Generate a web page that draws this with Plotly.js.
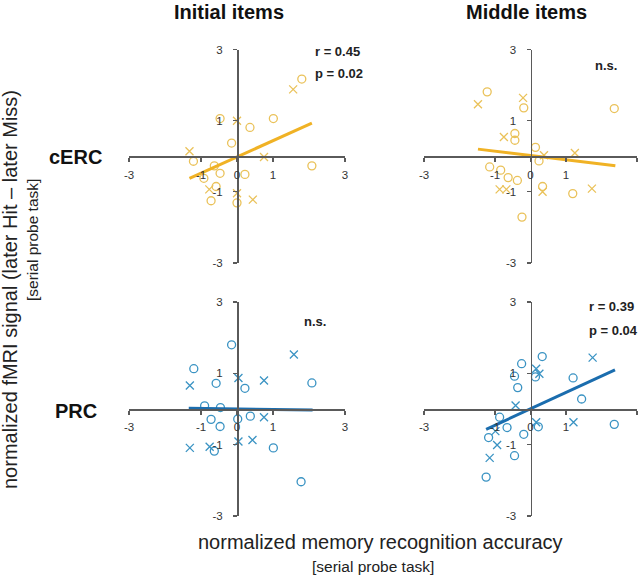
<!DOCTYPE html>
<html>
<head>
<meta charset="utf-8">
<script src="https://cdn.plot.ly/plotly-3.0.1.min.js"></script>
<style>html,body{margin:0;padding:0;background:#fff;}#chart{width:640px;height:575px;}</style>
</head>
<body>
<div id="chart"></div>
<script>
// ---- data ----
const colTitles = ["Initial items", "Middle items"];
const rowTitles = ["cERC", "PRC"];
const xTickVals = [-3, -1, 0, 1, 3];
const xTickText = ["-3", "-1", "0", "1", "3"];
const yTickVals = [-3, -1, 1, 3];
const yTickText = ["-3", "-1", "1", "3"];

// cERC, Initial items
const p1CircX = [1.80, -0.47, 0.36, 1.01, -0.15, -1.21, 2.08, -0.63, -0.47, -0.92, 0.22, -0.58, -0.72, 0.00];
const p1CircY = [2.17, 1.06, 0.81, 1.06, 0.37, -0.14, -0.27, -0.27, -0.48, -0.62, -0.51, -0.85, -1.25, -1.31];
const p1CrossX = [1.56, 0.00, -1.32, 0.75, -0.77, 0.00, 0.44];
const p1CrossY = [1.88, 1.00, 0.14, -0.02, -0.93, -1.04, -1.22];
const p1FitX = [-1.32, 2.08];
const p1FitY = [-0.62, 0.93];
const p1Stats = ["r = 0.45", "p = 0.02"];

// cERC, Middle items
const p2CircX = [-1.22, -0.19, 2.36, -0.44, -0.44, 0.14, 0.24, -1.15, -0.84, -0.63, -0.37, 0.34, 1.19, -0.24];
const p2CircY = [1.81, 1.36, 1.34, 0.64, 0.45, 0.25, -0.13, -0.30, -0.39, -0.60, -0.68, -0.85, -1.05, -1.71];
const p2CrossX = [-1.48, -0.21, -0.75, 0.38, 1.25, -0.87, -0.68, 0.34, 1.73];
const p2CrossY = [1.46, 1.64, 0.54, 0.03, 0.09, -0.93, -0.93, -1.00, -0.91];
const p2FitX = [-1.48, 2.39];
const p2FitY = [0.20, -0.27];
const p2Stats = ["n.s."];

// PRC, Initial items
const p3CircX = [-0.15, -1.20, -0.58, 0.22, 2.08, -0.90, -0.46, -0.72, 0.02, 0.37, -0.47, -0.63, 1.01, 1.78];
const p3CircY = [1.80, 1.13, 0.72, 0.58, 0.73, 0.09, 0.04, -0.29, -0.28, -0.20, -0.49, -1.18, -1.09, -2.04];
const p3CrossX = [1.58, -1.31, 0.04, 0.75, 0.75, -1.31, -0.76, 0.04, 0.43];
const p3CrossY = [1.53, 0.66, 0.87, 0.80, -0.23, -1.09, -1.06, -0.91, -0.87];
const p3FitX = [-1.34, 2.10];
const p3FitY = [0.02, -0.03];
const p3Stats = ["n.s."];

// PRC, Middle items
const p4CircX = [0.33, -0.25, -0.45, 0.14, 1.20, -0.36, 1.44, -0.87, 0.22, 2.36, -0.66, -0.19, -1.18, -0.45, -1.25];
const p4CircY = [1.47, 1.27, 0.92, 0.90, 0.87, 0.60, 0.28, -0.23, -0.50, -0.43, -0.52, -0.71, -0.80, -1.31, -1.91];
const p4CrossX = [1.75, 0.16, 0.25, -0.42, 0.16, 1.21, -0.99, -0.94, -1.15];
const p4CrossY = [1.44, 1.13, 0.99, 0.10, -0.37, -0.37, -0.62, -1.01, -1.37];
const p4FitX = [-1.25, 2.38];
const p4FitY = [-0.57, 1.10];
const p4Stats = ["r = 0.39", "p = 0.04"];

const xTitle = "normalized memory recognition accuracy";
const yTitle = "normalized fMRI signal (later Hit \u2013 later Miss)";
const subTitle = "[serial probe task]";

// ---- styling ----
const FONT = "Liberation Sans, Arial, Helvetica, sans-serif";
const yellowMarker = "#EAC25A";
const yellowLine = "#F0B225";
const blueMarker = "#3A93C3";
const blueLine = "#1B6DAE";

const panels = [
  {cx: p1CircX, cy: p1CircY, kx: p1CrossX, ky: p1CrossY, fx: p1FitX, fy: p1FitY, mc: yellowMarker, lc: yellowLine, ax: "", stats: p1Stats, sx: 2.11, sy: [2.94, 2.33], anchor: "left"},
  {cx: p2CircX, cy: p2CircY, kx: p2CrossX, ky: p2CrossY, fx: p2FitX, fy: p2FitY, mc: yellowMarker, lc: yellowLine, ax: "2", stats: p2Stats, sx: 2.13, sy: [2.56], anchor: "center"},
  {cx: p3CircX, cy: p3CircY, kx: p3CrossX, ky: p3CrossY, fx: p3FitX, fy: p3FitY, mc: blueMarker, lc: blueLine, ax: "3", stats: p3Stats, sx: 2.16, sy: [2.46], anchor: "center"},
  {cx: p4CircX, cy: p4CircY, kx: p4CrossX, ky: p4CrossY, fx: p4FitX, fy: p4FitY, mc: blueMarker, lc: blueLine, ax: "4", stats: p4Stats, sx: 1.59, sy: [2.88, 2.19], anchor: "left"}
];

const traces = [];
const annotations = [];
panels.forEach(p => {
  const xa = "x" + p.ax, ya = "y" + p.ax;
  traces.push({x: p.cx, y: p.cy, xaxis: xa, yaxis: ya, type: "scatter", mode: "markers",
    marker: {symbol: "circle-open", size: 8, color: p.mc, line: {width: 1.3, color: p.mc}}, hoverinfo: "skip"});
  traces.push({x: p.kx, y: p.ky, xaxis: xa, yaxis: ya, type: "scatter", mode: "markers",
    marker: {symbol: "x-thin-open", size: 8, color: p.mc, line: {width: 1.3, color: p.mc}}, hoverinfo: "skip"});
  traces.push({x: p.fx, y: p.fy, xaxis: xa, yaxis: ya, type: "scatter", mode: "lines",
    line: {color: p.lc, width: 3}, hoverinfo: "skip"});
  p.stats.forEach((t, i) => {
    annotations.push({xref: xa, yref: ya, x: p.sx, y: p.sy[i], text: "<b>" + t + "</b>", showarrow: false,
      xanchor: p.anchor, yanchor: "middle", font: {family: FONT, size: 13, color: "#222"}});
  });
});

// domains (paper fractions)
const xdomL = [129/640, 345/640], xdomR = [424/640, 637/640];
const ydomT = [1 - 263/575, 1 - 49.5/575], ydomB = [1 - 516/575, 1 - 302/575];
const mid = d => (d[0] + d[1]) / 2;

function xAxis(dom, ydom) {
  return {domain: dom, range: [-3, 3], anchor: "free", position: mid(ydom),
    showline: true, linecolor: "#5a5a5a", linewidth: 1.5, showgrid: false, zeroline: false,
    ticks: "outside", ticklen: 4, tickwidth: 1.2, tickcolor: "#5a5a5a", ticklabelstandoff: 3,
    tickmode: "array", tickvals: xTickVals, ticktext: xTickText,
    tickfont: {family: FONT, size: 11.5, color: "#333"}, fixedrange: true};
}
function yAxis(dom, xdom) {
  return {domain: dom, range: [-3, 3], anchor: "free", position: mid(xdom),
    showline: true, linecolor: "#5a5a5a", linewidth: 1.5, showgrid: false, zeroline: false,
    ticks: "outside", ticklen: 4, tickwidth: 1.2, tickcolor: "#5a5a5a", ticklabelstandoff: 8,
    tickmode: "array", tickvals: yTickVals, ticktext: yTickText,
    tickfont: {family: FONT, size: 11.5, color: "#333"}, fixedrange: true};
}

// column / row / axis titles
annotations.push({xref: "paper", yref: "paper", x: 228.5/640, y: 1 - 12/575, text: "<b>" + colTitles[0] + "</b>",
  showarrow: false, xanchor: "center", yanchor: "middle", font: {family: FONT, size: 20, color: "#111"}});
annotations.push({xref: "paper", yref: "paper", x: 526/640, y: 1 - 12/575, text: "<b>" + colTitles[1] + "</b>",
  showarrow: false, xanchor: "center", yanchor: "middle", font: {family: FONT, size: 20, color: "#111"}});
annotations.push({xref: "paper", yref: "paper", x: 75/640, y: 1 - 157/575, text: "<b>" + rowTitles[0] + "</b>",
  showarrow: false, xanchor: "center", yanchor: "middle", font: {family: FONT, size: 20, color: "#111"}});
annotations.push({xref: "paper", yref: "paper", x: 76/640, y: 1 - 411/575, text: "<b>" + rowTitles[1] + "</b>",
  showarrow: false, xanchor: "center", yanchor: "middle", font: {family: FONT, size: 20, color: "#111"}});
annotations.push({xref: "paper", yref: "paper", x: 380/640, y: 1 - 542/575, text: xTitle,
  showarrow: false, xanchor: "center", yanchor: "middle", font: {family: FONT, size: 20, color: "#222"}});
annotations.push({xref: "paper", yref: "paper", x: 373/640, y: 1 - 566/575, text: subTitle,
  showarrow: false, xanchor: "center", yanchor: "middle", font: {family: FONT, size: 15.5, color: "#222"}});
annotations.push({xref: "paper", yref: "paper", x: 10/640, y: 1 - 290/575, text: yTitle, textangle: -90,
  showarrow: false, xanchor: "center", yanchor: "middle", font: {family: FONT, size: 20, color: "#222"}});
annotations.push({xref: "paper", yref: "paper", x: 32/640, y: 1 - 240/575, text: subTitle, textangle: -90,
  showarrow: false, xanchor: "center", yanchor: "middle", font: {family: FONT, size: 15.5, color: "#222"}});

const layout = {
  width: 640, height: 575, margin: {l: 0, r: 0, t: 0, b: 0},
  paper_bgcolor: "#fff", plot_bgcolor: "rgba(0,0,0,0)", showlegend: false,
  xaxis: xAxis(xdomL, ydomT), yaxis: yAxis(ydomT, xdomL),
  xaxis2: xAxis(xdomR, ydomT), yaxis2: yAxis(ydomT, xdomR),
  xaxis3: xAxis(xdomL, ydomB), yaxis3: yAxis(ydomB, xdomL),
  xaxis4: xAxis(xdomR, ydomB), yaxis4: yAxis(ydomB, xdomR),
  annotations: annotations
};

Plotly.newPlot("chart", traces, layout, {displayModeBar: false, staticPlot: true});
</script>
</body>
</html>
